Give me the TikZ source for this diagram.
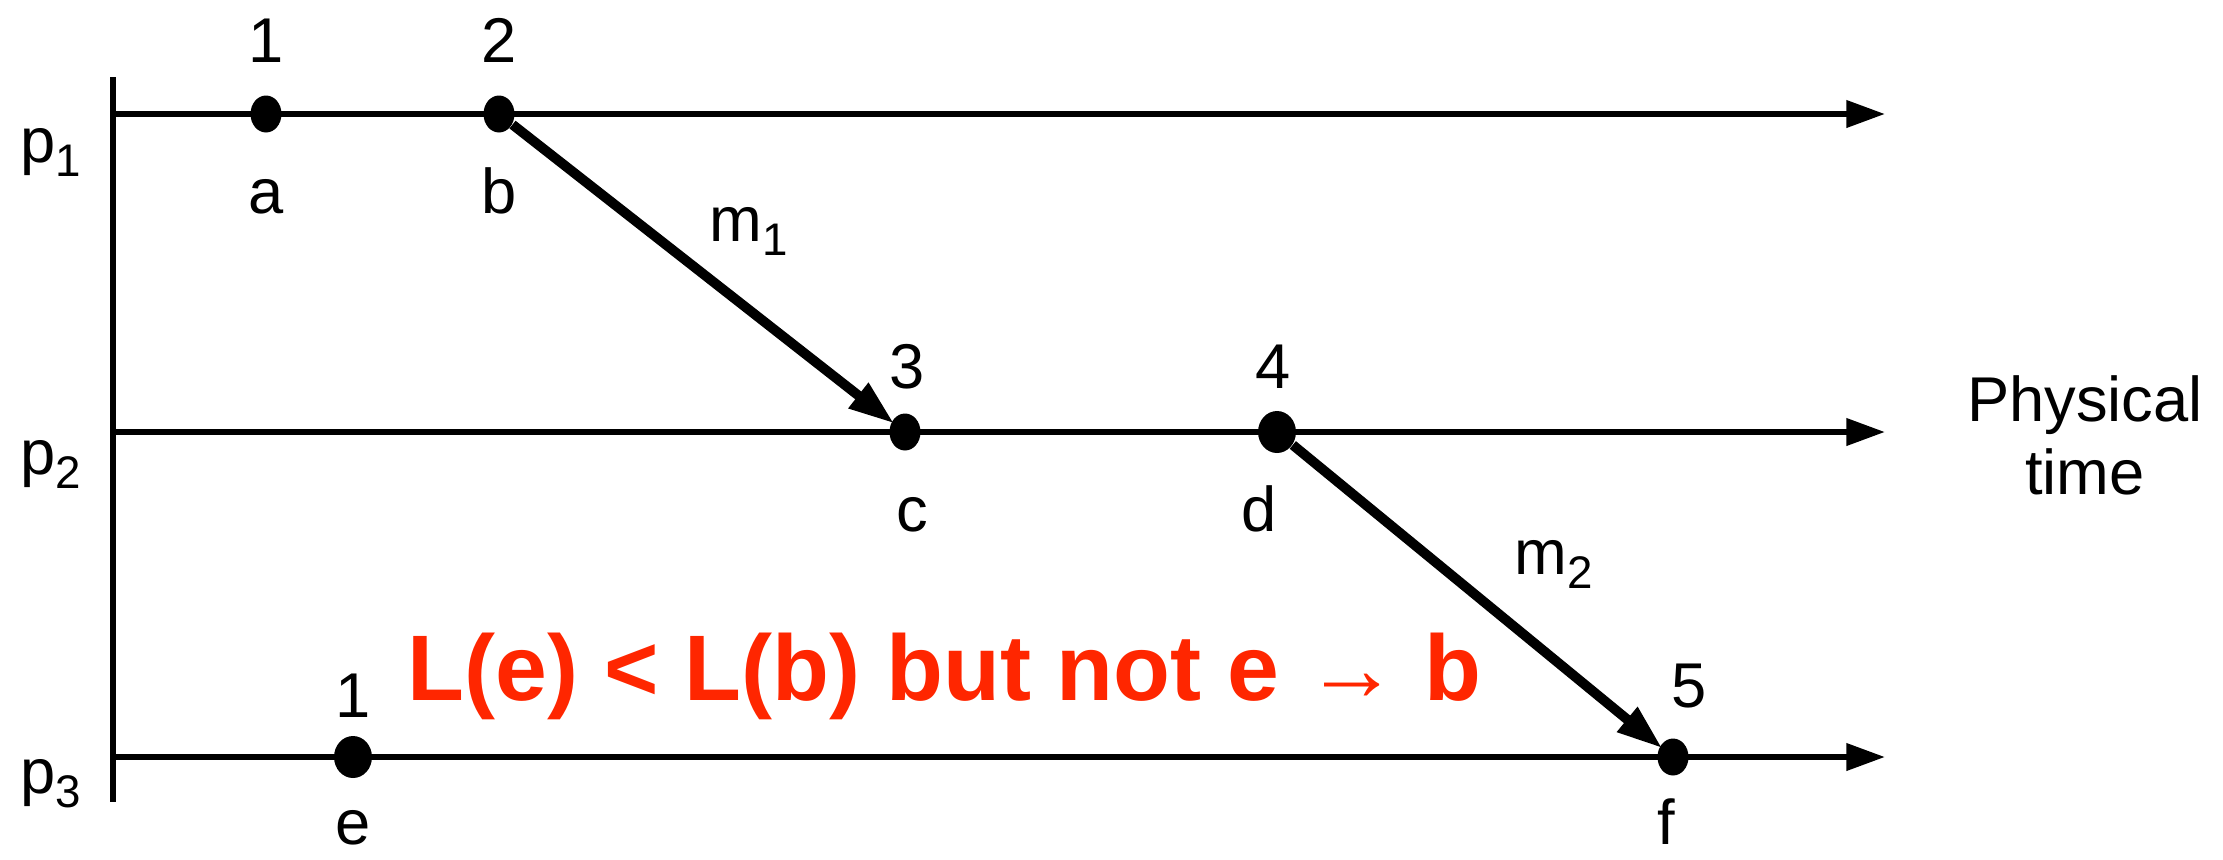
\documentclass[tikz,border=0pt]{standalone}
\usepackage{fontspec}
\setmainfont{Liberation Sans}
\usetikzlibrary{arrows.meta, positioning, shapes.geometric}
\definecolor{alertred}{RGB}{255,38,0}
\newcommand{\lowidx}[1]{\raisebox{-4pt}{\fontsize{13}{13}\selectfont #1}}

\begin{document}
\begin{tikzpicture}[
  font=\fontsize{18}{20.5}\selectfont,
  dot/.style={ellipse, fill=black, inner sep=0pt, minimum width=3.1mm, minimum height=3.7mm},
  bigdot/.style={dot, minimum width=3.8mm, minimum height=4.2mm},
  timeline/.style={line width=1.7pt, -{Triangle[length=11pt, width=7.5pt]}},
  msg/.style={line width=2.8pt, -{Triangle[length=13pt, width=8.5pt]}, shorten >=-1pt},
  lbl/.style={anchor=base, inner sep=0pt}
]
  \useasboundingbox (0,0) rectangle (22.23,8.59);

  % process axis
  \coordinate (top) at (1.13,7.82);
  \coordinate (bot) at (1.13,0.57);
  \draw[line width=1.6pt] (top) -- (bot);

  % time lines
  \coordinate (s1) at (1.13,7.45);  \coordinate (t1) at (18.85,7.45);
  \coordinate (s2) at (1.13,4.27);  \coordinate (t2) at (18.85,4.27);
  \coordinate (s3) at (1.13,1.02);  \coordinate (t3) at (18.85,1.02);
  \draw[timeline] (s1) -- (t1);
  \draw[timeline] (s2) -- (t2);
  \draw[timeline] (s3) -- (t3);

  % processes
  \node[lbl, anchor=base west] (p1) at (0.2,6.97) {p\lowidx{1}};
  \node[lbl, anchor=base west] (p2) at (0.2,3.85) {p\lowidx{2}};
  \node[lbl, anchor=base west] (p3) at (0.2,0.66) {p\lowidx{3}};

  % events
  \node[dot] (a) at (2.66,7.45) {};
  \node[dot] (b) at (4.99,7.45) {};
  \node[dot] (c) at (9.05,4.27) {};
  \node[bigdot] (d) at (12.77,4.27) {};
  \node[bigdot] (e) at (3.53,1.02) {};
  \node[dot] (f) at (16.73,1.02) {};

  % clock values
  \node[lbl] (la) at (2.66,7.97) {1};
  \node[lbl] (lb) at (4.99,7.97) {2};
  \node[lbl] (lc) at (9.07,4.71) {3};
  \node[lbl] (ld) at (12.73,4.71) {4};
  \node[lbl] (le) at (3.53,1.42) {1};
  \node[lbl] (lf) at (16.89,1.52) {5};

  % event names
  \node[lbl] (na) at (2.66,6.46) {a};
  \node[lbl] (nb) at (4.99,6.46) {b};
  \node[lbl] (nc) at (9.12,3.28) {c};
  \node[lbl] (nd) at (12.59,3.28) {d};
  \node[lbl] (ne) at (3.53,0.15) {e};
  \node[lbl] (nf) at (16.66,0.15) {f};

  % messages
  \draw[msg] (b) -- (c);
  \draw[msg] (d) -- (f);
  \node[lbl, anchor=base west] (m1) at (7.09,6.18) {m\lowidx{1}};
  \node[lbl, anchor=base west] (m2) at (15.14,2.85) {m\lowidx{2}};

  \node[lbl, align=center] (ptime) at (20.85,3.65) {Physical\\time};

  % claim
  \node[lbl, anchor=base west, text=alertred, font=\bfseries\fontsize{26.5}{30}\selectfont] (claim) at (4.07,1.59) {L(e) < L(b) but not e → b};
\end{tikzpicture}
\end{document}
